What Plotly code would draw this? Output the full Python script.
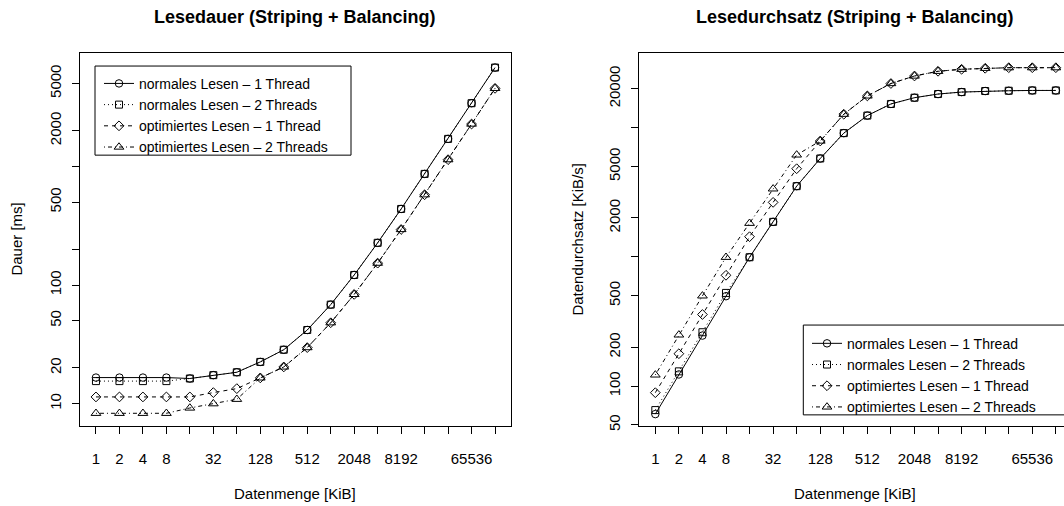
import plotly.graph_objects as go
import math

# ---------------- data ----------------
sizes_kib = [1, 2, 4, 8, 16, 32, 64, 128, 256, 512, 1024, 2048, 4096, 8192,
             16384, 32768, 65536, 131072]
x_tick_labels = ["1", "2", "4", "8", "", "32", "", "128", "", "512", "", "2048",
                 "", "8192", "", "", "65536", ""]

series_names = ["normales Lesen \u2013 1 Thread", "normales Lesen \u2013 2 Threads",
                "optimiertes Lesen \u2013 1 Thread", "optimiertes Lesen \u2013 2 Threads"]

# Lesedauer [ms]
dauer_norm_1t = [16.6, 16.6, 16.6, 16.6, 16.3, 17.4, 18.4, 22.5, 28.5, 41.8, 68.4,
                 121.6, 227, 438, 865, 1706, 3410, 6810]
dauer_norm_2t = [15.5, 15.5, 15.5, 15.5, 16.3, 17.4, 18.4, 22.5, 28.5, 41.8, 68.4,
                 121.6, 227, 438, 865, 1706, 3410, 6810]
dauer_opt_1t = [11.4, 11.4, 11.4, 11.4, 11.4, 12.4, 13.4, 16.5, 20.4, 29.7, 48.1,
                83.4, 153, 294, 577, 1140, 2276, 4550]
dauer_opt_2t = [8.3, 8.3, 8.3, 8.3, 9.2, 10.0, 10.9, 16.5, 20.4, 29.7, 48.1,
                83.4, 153, 294, 577, 1140, 2276, 4550]

# Lesedurchsatz [KiB/s]
durchsatz_norm_1t = [60.7, 123, 246, 496, 993, 1866, 3524, 5770, 9070, 12400, 15250,
                     17050, 18200, 18850, 19200, 19300, 19400, 19400]
durchsatz_norm_2t = [65.2, 130, 261, 526, 993, 1866, 3524, 5770, 9070, 12400, 15250,
                     17050, 18200, 18850, 19200, 19300, 19400, 19400]
durchsatz_opt_1t = [88.9, 178, 358, 720, 1432, 2640, 4810, 7880, 12700, 17600, 21950,
                    25100, 27300, 28300, 28800, 29100, 29100, 29100]
durchsatz_opt_2t = [122, 249, 499, 993, 1820, 3360, 6150, 7880, 12700, 17600, 21950,
                    25100, 27300, 28300, 28800, 29100, 29100, 29100]

dauer_ticks = [10, 20, 50, 100, 200, 500, 1000, 2000, 5000]
dauer_tick_labels = ["10", "20", "50", "100", "", "500", "", "2000", "5000"]
durchsatz_ticks = [50, 100, 200, 500, 1000, 2000, 5000, 10000, 20000]
durchsatz_tick_labels = ["50", "100", "200", "500", "", "2000", "5000", "", "20000"]

# ---------------- styles ----------------
W, H = 1064, 506
FONT = "Liberation Sans, Arial, Helvetica, sans-serif"
styles = [
    dict(dash="solid", symbol="circle-open", size=7.5),
    dict(dash="1px,3px", symbol="square-open", size=7),
    dict(dash="4px,4px", symbol="diamond-open", size=7.5),
    dict(dash="1px,3px,4px,3px", symbol="triangle-up-open", size=8.5),
]

def px_x(p):
    return p / W

def px_y(p):
    return 1 - p / H

fig = go.Figure()

left_data = [dauer_norm_1t, dauer_norm_2t, dauer_opt_1t, dauer_opt_2t]
right_data = [durchsatz_norm_1t, durchsatz_norm_2t, durchsatz_opt_1t, durchsatz_opt_2t]

for name, ys, st in zip(series_names, left_data, styles):
    fig.add_trace(go.Scatter(
        x=sizes_kib, y=ys, name=name, mode="lines+markers",
        line=dict(color="black", width=1, dash=st["dash"]),
        marker=dict(symbol=st["symbol"], size=st["size"], color="black",
                    line=dict(width=1, color="black")),
        xaxis="x", yaxis="y", legend="legend"))

for name, ys, st in zip(series_names, right_data, styles):
    fig.add_trace(go.Scatter(
        x=sizes_kib, y=ys, name=name, mode="lines+markers",
        line=dict(color="black", width=1, dash=st["dash"]),
        marker=dict(symbol=st["symbol"], size=st["size"], color="black",
                    line=dict(width=1, color="black")),
        xaxis="x2", yaxis="y2", legend="legend2"))

L2 = math.log10(2)
ydom = [px_y(430), px_y(54)]

common_x = dict(type="log", tickvals=sizes_kib, ticktext=x_tick_labels,
                ticks="outside", ticklen=7, tickwidth=1, tickcolor="black",
                showline=True, linecolor="black", linewidth=1, mirror=True,
                showgrid=False, zeroline=False, ticklabelstandoff=12,
                tickfont=dict(family=FONT, size=15, color="black"))
common_y = dict(type="log", ticks="outside", ticklen=7, tickwidth=1,
                tickcolor="black", showline=True, linecolor="black", linewidth=1,
                showgrid=False, zeroline=False, tickangle=-90,
                ticklabelstandoff=5,
                tickfont=dict(family=FONT, size=15, color="black"))

LEG_FONT = dict(family=FONT, size=14, color="black")

fig.update_layout(
    width=W, height=H, margin=dict(l=0, r=0, t=0, b=0),
    paper_bgcolor="white", plot_bgcolor="white",
    font=dict(family=FONT, size=15, color="black"),
    xaxis=dict(common_x, domain=[px_x(80), px_x(511)],
               range=[-0.68 * L2, 17.68 * L2], anchor="y"),
    yaxis=dict(common_y, domain=ydom, range=[0.814, 3.952],
               tickvals=dauer_ticks, ticktext=dauer_tick_labels,
               mirror=True, anchor="x"),
    xaxis2=dict(common_x, domain=[px_x(639.3), 1.0],
                range=[-0.68 * L2, 17.346 * L2], anchor="y2"),
    yaxis2=dict(common_y, domain=ydom, range=[1.693, 4.574],
                tickvals=durchsatz_ticks, ticktext=durchsatz_tick_labels,
                mirror=False, anchor="x2"),
    legend=dict(x=px_x(99), y=px_y(68.5), xanchor="left", yanchor="top",
                bgcolor="rgba(0,0,0,0)", borderwidth=0, font=LEG_FONT),
    legend2=dict(x=px_x(807), y=px_y(331), xanchor="left", yanchor="top",
                 bgcolor="rgba(0,0,0,0)", borderwidth=0, font=LEG_FONT),
    shapes=[
        dict(type="rect", xref="paper", yref="paper",
             x0=px_x(95), x1=px_x(351), y0=px_y(156.7), y1=px_y(66.7),
             line=dict(color="black", width=1)),
        dict(type="rect", xref="paper", yref="paper",
             x0=px_x(803.3), x1=px_x(1075), y0=px_y(419), y1=px_y(328.3),
             line=dict(color="black", width=1)),
    ],
    annotations=[
        dict(text="<b>Lesedauer (Striping + Balancing)</b>", x=px_x(295), y=px_y(17),
             xref="paper", yref="paper", showarrow=False, font=dict(size=18),
             xanchor="center", yanchor="middle"),
        dict(text="<b>Lesedurchsatz (Striping + Balancing)</b>", x=px_x(855), y=px_y(17),
             xref="paper", yref="paper", showarrow=False, font=dict(size=18),
             xanchor="center", yanchor="middle"),
        dict(text="Datenmenge [KiB]", x=px_x(295), y=px_y(498),
             xref="paper", yref="paper", showarrow=False,
             xanchor="center", yanchor="middle"),
        dict(text="Datenmenge [KiB]", x=px_x(855), y=px_y(498),
             xref="paper", yref="paper", showarrow=False,
             xanchor="center", yanchor="middle"),
        dict(text="Dauer [ms]", x=px_x(17), y=px_y(242), textangle=-90,
             xref="paper", yref="paper", showarrow=False,
             xanchor="center", yanchor="middle"),
        dict(text="Datendurchsatz [KiB/s]", x=px_x(578), y=px_y(242), textangle=-90,
             xref="paper", yref="paper", showarrow=False,
             xanchor="center", yanchor="middle"),
    ],
)

fig.write_html("out.html")
